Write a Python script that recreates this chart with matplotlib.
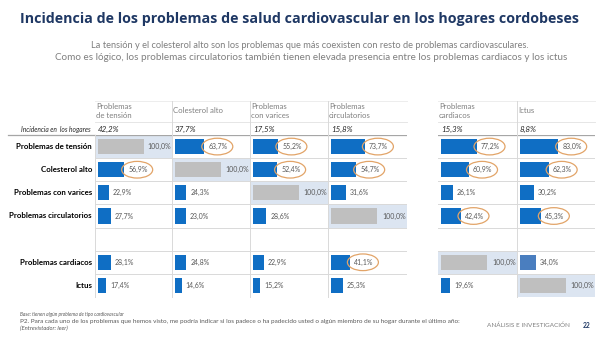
import matplotlib
matplotlib.use("Agg")
import matplotlib.pyplot as plt
from matplotlib.patches import Ellipse
from matplotlib.lines import Line2D

# ---------------- data ----------------
row_labels = ["Problemas de tensión", "Colesterol alto", "Problemas con varices",
              "Problemas circulatorios", "Problemas cardiacos", "Ictus"]
col_headers = ["Problemas\nde tensión", "Colesterol alto", "Problemas\ncon varices",
               "Problemas\ncirculatorios", "Problemas\ncardiacos", "Ictus"]
incidence = [42.2, 37.7, 17.5, 15.8, 15.3, 8.8]

col_tension = [100.0, 56.9, 22.9, 27.7, 28.1, 17.4]
col_colesterol = [63.7, 100.0, 24.3, 23.0, 24.8, 14.6]
col_varices = [55.2, 52.4, 100.0, 28.6, 22.9, 15.2]
col_circulatorios = [73.7, 54.7, 31.6, 100.0, 41.1, 25.3]
col_cardiacos = [77.2, 60.9, 26.1, 42.4, 100.0, 19.6]
col_ictus = [83.0, 62.3, 30.2, 45.3, 34.0, 100.0]
columns = [col_tension, col_colesterol, col_varices, col_circulatorios, col_cardiacos, col_ictus]

circled_tension = [False, True, False, False, False, False]
circled_colesterol = [True, False, False, False, False, False]
circled_varices = [True, True, False, False, False, False]
circled_circulatorios = [True, True, False, False, True, False]
circled_cardiacos = [True, True, False, True, False, False]
circled_ictus = [True, True, False, True, False, False]
circled = [circled_tension, circled_colesterol, circled_varices,
           circled_circulatorios, circled_cardiacos, circled_ictus]

# ---------------- style ----------------
W, H = 600, 337
FONT = "Lato"
BLUE = "#0F6EC4"
BLUE_ALT = "#4A7EBF"
GRAY_BAR = "#BFBFBF"
HILITE = "#DCE5F1"
GRID = "#D9D9D9"
ORANGE = "#E2A468"
LABEL_C = "#595959"

fig = plt.figure(figsize=(W / 100, H / 100), dpi=100)
fig.patch.set_facecolor("white")


def fx(x):
    return x / W


def fy(y):
    return 1 - y / H


def ftext(x, y, s, **kw):
    kw.setdefault("family", FONT)
    fig.text(fx(x), fy(y), s, **kw)


def fline(xs, ys, **kw):
    fig.add_artist(Line2D([fx(v) for v in xs], [fy(v) for v in ys],
                          transform=fig.transFigure, **kw))


# title & subtitle
ftext(300, 19, "Incidencia de los problemas de salud cardiovascular en los hogares cordobeses",
      ha="center", va="center", fontsize=10.3, fontweight="bold", color="#1F3864",
      family="Open Sans")
ftext(310, 45, "La tensión y el colesterol alto son los problemas que más coexisten con resto de problemas cardiovasculares.",
      ha="center", va="center", fontsize=6.7, color="#7F7F7F")
ftext(311, 58, "Como es lógico, los problemas circulatorios también tienen elevada presencia entre los problemas cardiacos y los ictus",
      ha="center", va="center", fontsize=7.1, color="#7F7F7F")

# table geometry (pixels)
col_left = [95, 172, 250, 328, 438, 517]
col_right = [172, 250, 328, 407, 517, 595]
top_px, bot_px = 135, 297
ypos = [0, 1, 2, 3, 5, 6]
PX100 = 46.0  # pixels for 100%

for c, vals in enumerate(columns):
    l, r = col_left[c], col_right[c]
    w = r - l
    ax = fig.add_axes([fx(l), fy(bot_px), w / W, (bot_px - top_px) / H])
    u = 100.0 / PX100  # data units per pixel
    ax.set_xlim(-3 * u, (w - 3) * u)
    ax.set_ylim(6.5, -0.5)
    ax.axis("off")
    for b in [0.5, 1.5, 2.5, 3.5, 4.5, 5.5, 6.5]:
        ax.axhline(b, color=GRID, lw=0.7, zorder=1)
    ax.axhline(-0.5, color="#A6A6A6", lw=0.9, zorder=2)
    colors = []
    for i, v in enumerate(vals):
        if v >= 100:
            colors.append(GRAY_BAR)
            ax.axhspan(ypos[i] - 0.5, ypos[i] + 0.5, color=HILITE, zorder=0, lw=0)
        elif c == 5 and i == 4:
            colors.append(BLUE_ALT)
        else:
            colors.append(BLUE)
    ax.barh(ypos, vals, height=0.66, color=colors, zorder=3)
    for i, v in enumerate(vals):
        s = f"{v:.1f}%".replace(".", ",")
        if v >= 100:
            ax.text((w - 4) * u, ypos[i], s, ha="right", va="center", fontsize=5,
                    color=LABEL_C, family=FONT, zorder=4)
        else:
            ax.text(v + 4 * u, ypos[i], s, ha="left", va="center", fontsize=5,
                    color=LABEL_C, family=FONT, zorder=4)
        if circled[c][i]:
            ax.add_patch(Ellipse((v + 13 * u, ypos[i]), 31 * u, 0.72, fill=False,
                                 edgecolor=ORANGE, lw=0.9, zorder=5, clip_on=False))
    # header
    ftext(l + 1, 111, col_headers[c], ha="left", va="center", fontsize=5.6,
          color="#7F7F7F", linespacing=1.25)
    ftext(l + 3, 129.5, f"{incidence[c]:.1f}%".replace(".", ","), ha="left", va="center",
          fontsize=5.8, style="italic", color="#262626")

# header lines
for (a, b) in [(95, 407), (438, 595)]:
    fline([a, b], [101, 101], color="#EDEDED", lw=0.7)
    fline([a, b], [122, 122], color="#E6E6E6", lw=0.7)
fline([8, 95], [135, 135], color="#A6A6A6", lw=0.9)

# vertical lines
for x in [172, 250, 328, 517]:
    fline([x, x], [101, bot_px], color=GRID, lw=0.7)
fline([95, 95], [135, bot_px], color=GRID, lw=0.7)

# row labels
ftext(91, 129.5, "Incidencia en  los hogares", ha="right", va="center", fontsize=4.8,
      style="italic", color="#262626")
for i, lab in enumerate(row_labels):
    ypx = top_px + (ypos[i] + 0.5) * (bot_px - top_px) / 7
    ftext(92, ypx, lab, ha="right", va="center", fontsize=5.7, fontweight="bold", color="black")

# footer
ftext(20, 314, "Base: tienen algún problema de tipo cardiovascular", ha="left", va="center",
      fontsize=3.5, style="italic", color="#595959")
ftext(20, 321, "P2. Para cada uno de los problemas que hemos visto, me podría indicar si los padece o ha padecido usted o algún miembro de su hogar durante el último año:",
      ha="left", va="center", fontsize=4.6, color="#595959")
ftext(20, 328.5, "(Entrevistador: leer)", ha="left", va="center", fontsize=4.2,
      style="italic", color="#595959")
ftext(570, 325, "ANÁLISIS E INVESTIGACIÓN", ha="right", va="center", fontsize=4.6, color="#7F7F7F")
ftext(583, 325, "22", ha="left", va="center", fontsize=4.8, fontweight="bold", color="#1F3864")

fig.savefig("out.png", dpi=100)
